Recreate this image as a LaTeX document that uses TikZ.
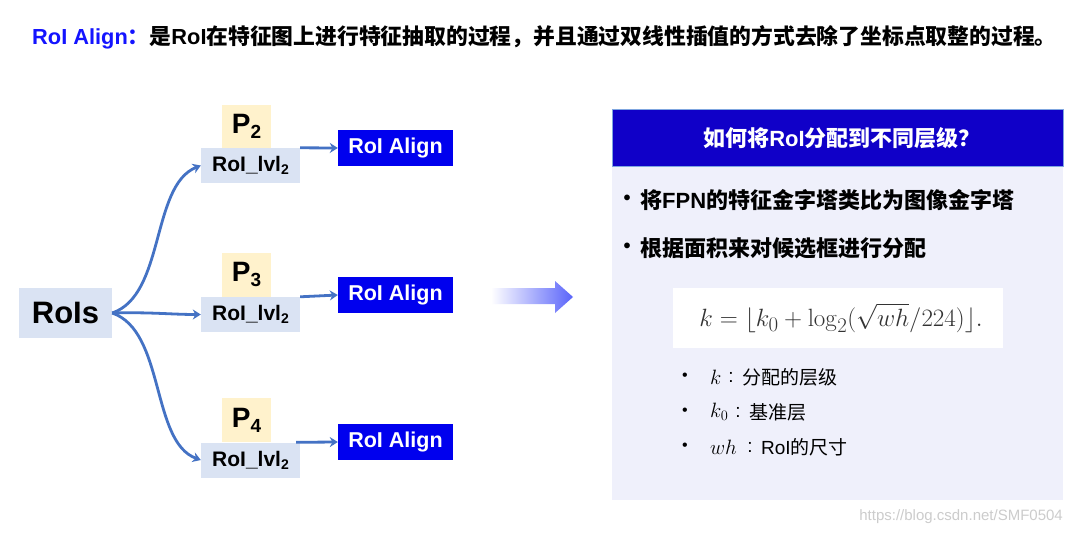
\documentclass[tikz,border=0pt]{standalone}
\usepackage[no-math]{fontspec}
\usepackage{graphicx}
\setmainfont{Liberation Sans}
\newfontfamily\cjk{Noto Sans CJK SC}
\usetikzlibrary{arrows.meta}
\newcommand\setfs[1]{\fontsize{#1}{#1}\selectfont}
\definecolor{boxgray}{HTML}{DAE3F3}
\definecolor{boxyel}{HTML}{FFF2CC}
\definecolor{alignblue}{HTML}{0000EE}
\definecolor{arrowblue}{HTML}{4472C4}
\definecolor{panelbg}{HTML}{EFF0FB}
\definecolor{headblue}{HTML}{1000C8}
\definecolor{headline}{HTML}{7FA6E0}
\definecolor{titleblue}{HTML}{1414FF}
\definecolor{bigarrow}{HTML}{5A64FA}
\tikzset{
  lvlbox/.style={fill=boxgray,minimum width=99pt,minimum height=35pt,inner sep=0pt,font=\setfs{21}\bfseries},
  pbox/.style={fill=boxyel,minimum width=49pt,minimum height=44pt,inner sep=0pt,font=\setfs{28}\bfseries},
  alignbox/.style={fill=alignblue,text=white,minimum width=115pt,minimum height=36pt,inner sep=0pt,font=\setfs{21.5}\bfseries},
  conn/.style={draw=arrowblue,line width=2.8pt,-{Stealth[length=8pt,width=10pt]}},
  txt/.style={inner sep=0pt,anchor=west},
}
\begin{document}
\begin{tikzpicture}[x=1pt,y=-1pt]
\useasboundingbox[fill=white] (0,0) rectangle (1071,535);
% title
\node[txt] (title) at (32,37) {\setfs{21.8}\bfseries\textcolor{titleblue}{RoI Align{\cjk ：}}{\cjk 是}RoI{\cjk 在特征图上进行特征抽取的过程，并且通过双线性插值的方式去除了坐标点取整的过程。}};
% left diagram
\node[fill=boxgray,minimum width=93pt,minimum height=50pt,inner sep=0pt,font=\setfs{31}\bfseries] (rois) at (65.5,313) {RoIs};
\node[pbox] (p2) at (246.5,126.5) {P\raisebox{-5pt}{\setfs{19}2}};
\node[pbox] (p3) at (246.5,274.5) {P\raisebox{-5pt}{\setfs{19}3}};
\node[pbox] (p4) at (246.5,420) {P\raisebox{-5pt}{\setfs{19}4}};
\node[lvlbox] (l2) at (250.5,165.5) {RoI\_lvl\raisebox{-3pt}{\setfs{14}2}};
\node[lvlbox] (l3) at (250.5,314.5) {RoI\_lvl\raisebox{-3pt}{\setfs{14}2}};
\node[lvlbox] (l4) at (250.5,460) {RoI\_lvl\raisebox{-3pt}{\setfs{14}2}};
\node[alignbox] (a2) at (395.5,148) {RoI Align};
\node[alignbox] (a3) at (395.5,295) {RoI Align};
\node[alignbox] (a4) at (395.5,442) {RoI Align};
\draw[conn] (rois.east) .. controls +(53,-18) and +(-50,20) .. (l2.west);
\draw[conn] (rois.east) .. controls +(40,-1) and +(-30,0) .. (l3.west);
\draw[conn] (rois.east) .. controls +(53,18) and +(-50,-18) .. (l4.west);
\draw[conn] (l2.north east) -- (a2.west);
\draw[conn] (l3.north east) -- (a3.west);
\draw[conn] ([xshift=-4pt]l4.north east) -- (a4.west);
% big arrow
\shade[left color=white,right color=bigarrow] (491,288) -- (555,288) -- (555,281) -- (573,297) -- (555,313) -- (555,304) -- (491,304) -- cycle;
% right panel
\fill[panelbg] (612,109) rectangle (1063,500);
\node[fill=headblue,draw=headline,line width=1pt,minimum width=451pt,minimum height=57pt,inner sep=0pt,anchor=north west] (head) at (612,109) {};
\node[text=white,font=\setfs{22}\bfseries] (headtxt) at ([xshift=4pt]head.center) {{\cjk 如何将}RoI{\cjk 分配到不同层级？}};
\node[font=\setfs{20}\bfseries] (d1) at (627,200) {•};
\node[txt,font=\setfs{22}\bfseries] (b1) at (640,200) {{\cjk 将}FPN{\cjk 的特征金字塔类比为图像金字塔}};
\node[font=\setfs{20}\bfseries] (d2) at (627,248) {•};
\node[txt,font=\setfs{22}\bfseries] (b2) at (640,248) {\cjk 根据面积来对候选框进行分配};
\fill[white] (673,288) rectangle (1003,348);
\node[text=black!80,font=\setfs{24.88}] (formula) at (841,318) {\scalebox{1.005}{$k = \lfloor k_0 + \log_2(\sqrt{wh}/224)\rfloor.$}};
% sub bullets
\node[font=\setfs{16}] (s1) at (685,377) {•};
\node[txt,font=\setfs{21}] (k1) at (710,377) {$k$};
\node[font=\setfs{19}] (c1) at (731,377) {:};
\node[txt,font=\setfs{19}] (t1) at (742,377) {\cjk 分配的层级};
\node[font=\setfs{16}] (s2) at (685,412) {•};
\node[txt,font=\setfs{21}] (k2) at (710,412) {$k_0$};
\node[font=\setfs{19}] (c2) at (738,412) {:};
\node[txt,font=\setfs{19}] (t2) at (749,412) {\cjk 基准层};
\node[font=\setfs{16}] (s3) at (685,447) {•};
\node[txt,font=\setfs{21}] (k3) at (710,447) {$wh$};
\node[font=\setfs{19}] (c3) at (750,447) {:};
\node[txt,font=\setfs{19}] (t3) at (761,447) {RoI{\cjk 的尺寸}};
% watermark
\node[anchor=east,inner sep=0pt,text=black!20,font=\setfs{15}] (wm) at (1063,517) {https://blog.csdn.net/SMF0504};
\end{tikzpicture}
\end{document}
